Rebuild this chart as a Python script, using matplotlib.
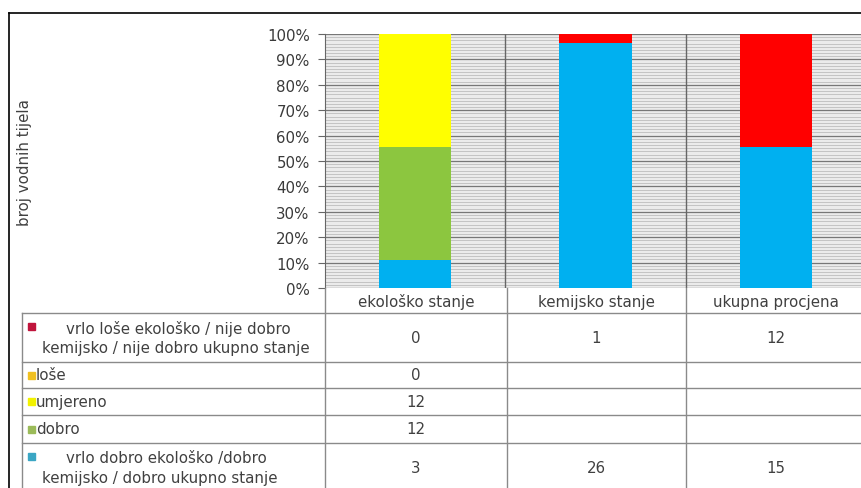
import numpy as np
import matplotlib
matplotlib.use("Agg")
import matplotlib.pyplot as plt
from matplotlib.ticker import MultipleLocator, PercentFormatter
from matplotlib.patches import Rectangle

plt.rcParams['font.family'] = ['DejaVu Sans']

# Data
categories = ['ekološko stanje', 'kemijsko stanje', 'ukupna procjena']
series_names = [
    'vrlo dobro ekološko /dobro\nkemijsko / dobro ukupno stanje',
    'dobro',
    'umjereno',
    'loše',
    'vrlo loše ekološko / nije dobro\nkemijsko / nije dobro ukupno stanje',
]
vrlo_dobro = [3, 26, 15]
dobro = [12, None, None]
umjereno = [12, None, None]
lose = [0, None, None]
vrlo_lose = [0, 1, 12]
series_values = [vrlo_dobro, dobro, umjereno, lose, vrlo_lose]
series_colors = ['#00B0F0', '#8CC63F', '#FFFF00', '#FFC000', '#FF0000']
marker_colors = ['#3AA6C4', '#9BBB59', '#F2F200', '#F0C020', '#C0143C']

vals = np.array([[v if v is not None else 0 for v in s] for s in series_values], dtype=float)
pct = vals / vals.sum(axis=0)

W, H = 861, 489
fig = plt.figure(figsize=(W / 100, H / 100), dpi=100)

# layout in pixels
plot_left, plot_right, plot_top, plot_bottom = 325, 866, 35, 289
col_edges = [325, 507, 686, 866]
row_edges = [314, 363, 389, 416, 444, 493]
table_left = 22
fs = 10.8

ax = fig.add_axes([plot_left / W, (H - plot_bottom) / H,
                   (plot_right - plot_left) / W, (plot_bottom - plot_top) / H])
ax.set_facecolor('#ebebeb')
x = np.arange(len(categories)) + 0.5
bottom = np.zeros(len(categories))
for p, c in zip(pct, series_colors):
    ax.bar(x, p, bottom=bottom, width=0.4, color=c, zorder=3)
    bottom += p

ax.set_xlim(0, 3)
ax.set_ylim(0, 1)
ax.yaxis.set_major_locator(MultipleLocator(0.1))
ax.yaxis.set_minor_locator(MultipleLocator(0.0125))
ax.yaxis.set_major_formatter(PercentFormatter(1.0, decimals=0))
ax.grid(axis='y', which='minor', color='#bdbdbd', lw=0.6, zorder=1)
ax.grid(axis='y', which='major', color='#777777', lw=0.9, zorder=2)
for xv in [1, 2]:
    ax.axvline(xv, color='#666666', lw=1, zorder=2)
ax.set_xticks([])
ax.tick_params(axis='y', which='major', length=5, width=0.8, color='#666666',
               labelsize=fs, labelcolor='#3a3a3a', pad=6)
ax.tick_params(axis='y', which='minor', length=0)
for s in ['top', 'right', 'bottom']:
    ax.spines[s].set_visible(False)
ax.spines['left'].set_color('#666666')

# table overlay in pixel coordinates
tax = fig.add_axes([0, 0, 1, 1], zorder=5)
tax.set_xlim(0, W)
tax.set_ylim(H, 0)
tax.axis('off')
tax.patch.set_alpha(0)

line_kw = dict(color='#8a8a8a', lw=1)
for xe in col_edges[:3]:
    tax.plot([xe, xe], [plot_bottom, row_edges[-1]], **line_kw)
tax.plot([table_left, table_left], [row_edges[0], row_edges[-1]], **line_kw)
for ye in row_edges[:-1]:
    tax.plot([table_left, W + 5], [ye, ye], **line_kw)

text_color = '#404040'
for i, cat in enumerate(categories):
    cx = (col_edges[i] + col_edges[i + 1]) / 2
    tax.text(cx, (plot_bottom + row_edges[0]) / 2 + 1, cat, ha='center', va='center',
             fontsize=fs, color=text_color)

# rows top to bottom: reverse series order
order = list(range(len(series_names)))[::-1]
for r, si in enumerate(order):
    y0, y1 = row_edges[r], row_edges[r + 1]
    yc = (y0 + y1) / 2
    name = series_names[si]
    if '\n' in name:
        first, second = name.split('\n')
        tax.add_patch(Rectangle((28, y0 + 10), 7, 7, color=marker_colors[si]))
        tax.text(66, y0 + 15, first, ha='left', va='center', fontsize=fs, color=text_color)
        tax.text(42, y0 + 34, second, ha='left', va='center', fontsize=fs, color=text_color)
    else:
        tax.add_patch(Rectangle((28, yc - 3.5), 7, 7, color=marker_colors[si]))
        tax.text(36, yc, name, ha='left', va='center', fontsize=fs, color=text_color)
    for j, v in enumerate(series_values[si]):
        if v is None:
            continue
        cx = (col_edges[j] + col_edges[j + 1]) / 2
        tax.text(cx, yc, str(v), ha='center', va='center', fontsize=fs, color=text_color)

# y label
tax.text(25, 163, 'broj vodnih tijela', rotation=90, ha='center', va='center',
         fontsize=fs, color=text_color)

# outer chart border
tax.plot([9, 9], [14, H + 5], color='black', lw=1.2)
tax.plot([9, W + 5], [14, 14], color='black', lw=1.2)

fig.savefig('out.png', dpi=100)
